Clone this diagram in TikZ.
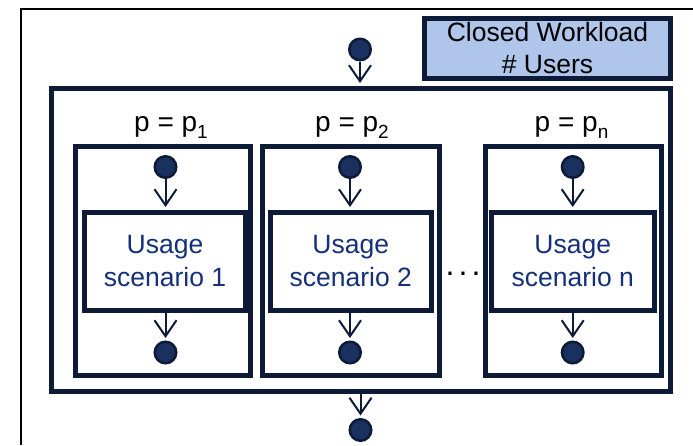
\documentclass[tikz,border=0pt]{standalone}
\usepackage{fontspec}
\setmainfont{Liberation Sans}
\usetikzlibrary{arrows.meta}
\definecolor{navy}{HTML}{0D1B38}
\definecolor{dotfill}{HTML}{1A3160}
\definecolor{txtblue}{HTML}{14307A}
\definecolor{cwfill}{HTML}{AFC5E9}
\begin{document}
\begin{tikzpicture}[x=1pt,y=-1pt,
  boxframe/.style={draw=navy,line width=5pt,inner sep=0pt,rectangle},
  dotnode/.style={circle,draw=navy,fill=dotfill,line width=2.5pt,minimum size=21.5pt,inner sep=0pt},
  flow/.style={draw=navy,line width=2pt,shorten >=2.5pt,-{Straight Barb[length=16pt,width=22pt]}},
  lbl/.style={font=\fontsize{28}{32}\selectfont,anchor=base,inner sep=0pt},
  scen/.style={boxframe,fill=white,font=\fontsize{26.5}{32.5}\selectfont,text=txtblue,align=center,minimum width=161pt,minimum height=98.5pt}]
\useasboundingbox (0,0) rectangle (693,445);
\fill[white] (0,0) rectangle (693,445);
% page frame
\draw[black,line width=2pt] (20.5,445) -- (20.5,9) -- (693,9);
% closed workload box
\node[boxframe,fill=cwfill,minimum width=246.5pt,minimum height=59.5pt,align=center,font=\fontsize{26.5}{32}\selectfont] (cw) at (547.5,48.25) {Closed Workload\\\# Users};
% outer box
\node[boxframe,minimum width=618.5pt,minimum height=303pt] (outer) at (360.75,239.5) {};
% sub boxes
\node[boxframe,minimum width=175.5pt,minimum height=229pt] (s1) at (162.75,261) {};
\node[boxframe,minimum width=176.5pt,minimum height=229pt] (s2) at (350.75,261) {};
\node[boxframe,minimum width=176pt,minimum height=229pt] (sn) at (573,261) {};
% scenario boxes
\node[scen] (i1) at (165,261.25) {Usage\\scenario 1};
\node[scen,minimum width=160.5pt] (i2) at (350.75,261.25) {Usage\\scenario 2};
\node[scen,minimum width=162.5pt] (in) at (572.75,261.25) {Usage\\scenario n};
% labels
\node[lbl] (l1) at (171,131) {p = p\raisebox{-0.25em}{\fontsize{19}{19}\selectfont 1}};
\node[lbl] (l2) at (352,131) {p = p\raisebox{-0.25em}{\fontsize{19}{19}\selectfont 2}};
\node[lbl] (ln) at (571.5,131) {p = p\raisebox{-0.25em}{\fontsize{19}{19}\selectfont n}};
% ellipsis
\node[font=\fontsize{32}{32}\selectfont,inner sep=0pt] (dots) at (463,274) {.\hspace{4.1pt}.\hspace{4.1pt}.};
% dots
\node[dotnode] (top) at (360,49.5) {};
\node[dotnode] (bot) at (360.5,430) {};
\node[dotnode] (t1) at (165.5,167) {};
\node[dotnode] (b1) at (165.5,352.5) {};
\node[dotnode] (t2) at (350,167) {};
\node[dotnode] (b2) at (350,352.5) {};
\node[dotnode] (tn) at (572.7,167) {};
\node[dotnode] (bn) at (572.7,352.5) {};
% connectors
\draw[flow] (top) -- (top |- outer.north);
\draw[flow] (outer.south -| bot) -- (bot);
\draw[flow] (t1) -- (t1 |- i1.north);
\draw[flow] (i1.south -| b1) -- (b1);
\draw[flow] (t2) -- (t2 |- i2.north);
\draw[flow] (i2.south -| b2) -- (b2);
\draw[flow] (tn) -- (tn |- in.north);
\draw[flow] (in.south -| bn) -- (bn);
\end{tikzpicture}
\end{document}
